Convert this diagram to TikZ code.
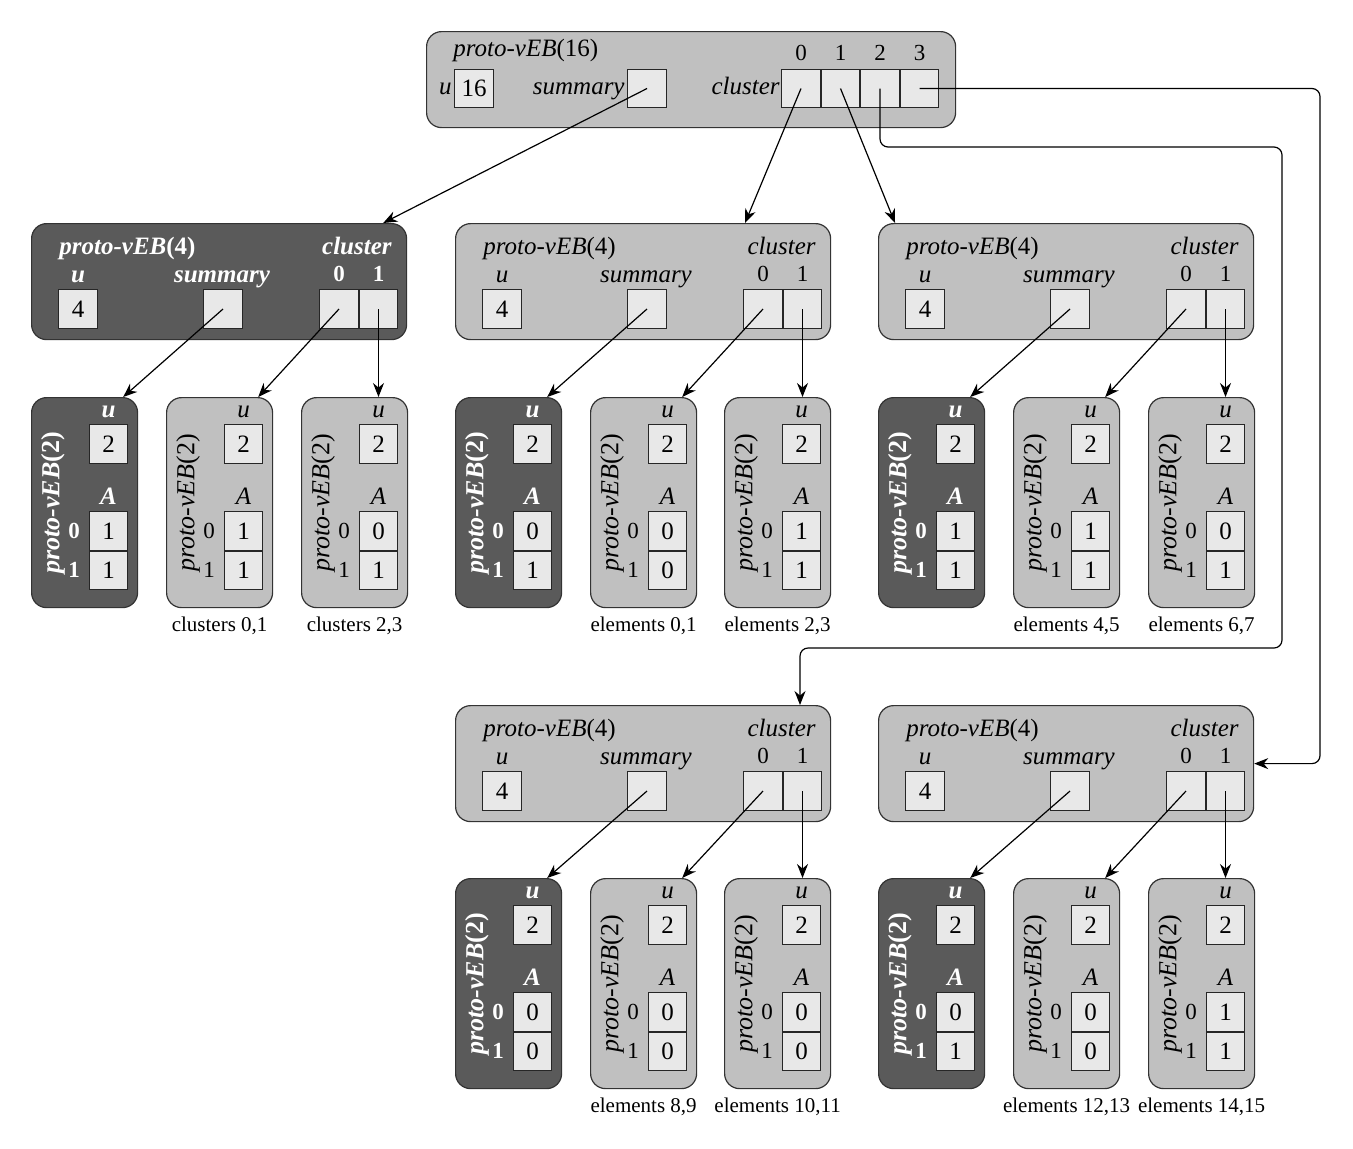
\documentclass[tikz,border=0pt]{standalone}
\usepackage{fontspec}
\setmainfont{Liberation Serif}
\usepackage{xcolor}
\usepackage{tikz}
\usetikzlibrary{positioning,arrows.meta,calc}
\definecolor{vebdark}{HTML}{5A5A5A}
\definecolor{veblight}{HTML}{C0C0C0}
\definecolor{cellgray}{HTML}{E8E8E8}
\newcommand{\lab}{\fontsize{12.5}{13}\selectfont}
\newcommand{\idx}{\fontsize{11.5}{12}\selectfont}
\newcommand{\vebname}[1]{{\itshape proto-vEB}\textup{(#1)}}

% proto-vEB(4): name, left, top, dark/light
\newcommand{\vebfour}[4]{%
  \begin{scope}[shift={(#2,#3)}]
    \node[box#4,minimum width=187.5pt,minimum height=58pt,anchor=north west] (#1) at (0,0) {};
    \node[lab#4,anchor=base west] (#1-t)  at (28,31)  {\vebname{4}};
    \node[lab#4,anchor=base east] (#1-cl) at (361,31) {cluster};
    \node[lab#4,anchor=base]      (#1-ul) at (47,59)  {u};
    \node[lab#4,anchor=base]      (#1-sl) at (191,59) {summary};
    \node[cell] (#1-u)  at (47,86)  {4};
    \node[cell] (#1-s)  at (192,86) {};
    \node[cell] (#1-c0) at (308,86) {};
    \node[cell,right=0pt of #1-c0] (#1-c1) {};
    \node[idx#4,anchor=base] (#1-i0) at (#1-c0.center |- 0,58) {0};
    \node[idx#4,anchor=base] (#1-i1) at (#1-c1.center |- 0,58) {1};
  \end{scope}}

% proto-vEB(2): name, left, top, dark/light, A[0], A[1]
\newcommand{\vebtwo}[6]{%
  \begin{scope}[shift={(#2,#3)}]
    \node[box#4,minimum width=53pt,minimum height=105pt,anchor=north west] (#1) at (0,0) {};
    \node[lab#4,rotate=90] (#1-t) at (22,106) {\fontsize{13}{13}\selectfont\vebname{2}};
    \node[lab#4,anchor=base] (#1-ul) at (77.5,20)  {u};
    \node[cell] (#1-u) at (77.5,47) {2};
    \node[lab#4,anchor=base] (#1-al) at (77.5,107) {A};
    \node[cell] (#1-a0) at (77.5,134) {#5};
    \node[cell,below=0pt of #1-a0] (#1-a1) {#6};
    \node[idx#4] (#1-i0) at (43,134)   {0};
    \node[idx#4] (#1-i1) at (43,172.5) {1};
  \end{scope}}

\begin{document}
\begin{tikzpicture}[
    x=0.5pt,y=-0.5pt,
    every node/.style={inner sep=0pt},
    boxdark/.style={rectangle,draw=black!80,fill=vebdark,line width=0.6pt,rounded corners=7.5pt},
    boxlight/.style={rectangle,draw=black!80,fill=veblight,line width=0.6pt,rounded corners=7.5pt},
    labdark/.style={text=white,font=\lab\bfseries\itshape},
    lablight/.style={font=\lab\itshape},
    idxdark/.style={text=white,font=\idx\bfseries},
    idxlight/.style={font=\idx},
    cell/.style={rectangle,draw=black!85,fill=cellgray,line width=0.5pt,
                 minimum width=19.25pt,minimum height=19.25pt,font=\lab},
    capt/.style={font=\fontsize{10.5}{11}\selectfont},
    arrow/.style={-{Stealth[length=7pt,width=5.5pt]},line width=0.6pt,rounded corners=4pt},
]
    \useasboundingbox (0,0) rectangle (1353,1148);

    % proto-vEB(16)
    \node[boxlight,minimum width=264.5pt,minimum height=48pt,anchor=north west] (root) at (426,31) {};
    \node[lablight,anchor=base west] (root-t) at (453,56) {\vebname{16}};
    \node[lablight,anchor=base east] (root-ul) at (452,94) {u};
    \node[cell] (root-u) at (474,88.5) {16};
    \node[lablight,anchor=base east] (root-sl) at (625,94) {summary};
    \node[cell] (root-s) at (647,88.5) {};
    \node[lablight,anchor=base east] (root-cl) at (780,94) {cluster};
    \node[cell] (root-c0) at (801,88.5) {};
    \node[cell,right=0pt of root-c0] (root-c1) {};
    \node[cell,right=0pt of root-c1] (root-c2) {};
    \node[cell,right=0pt of root-c2] (root-c3) {};
    \node[idxlight,anchor=base] (root-i0) at (root-c0.center |- 0,60) {0};
    \node[idxlight,anchor=base] (root-i1) at (root-c1.center |- 0,60) {1};
    \node[idxlight,anchor=base] (root-i2) at (root-c2.center |- 0,60) {2};
    \node[idxlight,anchor=base] (root-i3) at (root-c3.center |- 0,60) {3};

    % proto-vEB(4) structures
    \vebfour{s4}{31}{223}{dark}
    \vebfour{c4a}{455}{223}{light}
    \vebfour{c4b}{878}{223}{light}
    \vebfour{c4c}{455}{705}{light}
    \vebfour{c4d}{878}{705}{light}

    % proto-vEB(2) structures
    \vebtwo{s4s}{31}{397}{dark}{1}{1}
    \vebtwo{s40}{166}{397}{light}{1}{1}
    \vebtwo{s41}{301}{397}{light}{0}{1}
    \vebtwo{c4as}{455}{397}{dark}{0}{1}
    \vebtwo{c4a0}{590}{397}{light}{0}{0}
    \vebtwo{c4a1}{724}{397}{light}{1}{1}
    \vebtwo{c4bs}{878}{397}{dark}{1}{1}
    \vebtwo{c4b0}{1013}{397}{light}{1}{1}
    \vebtwo{c4b1}{1148}{397}{light}{0}{1}
    \vebtwo{c4cs}{455}{878}{dark}{0}{0}
    \vebtwo{c4c0}{590}{878}{light}{0}{0}
    \vebtwo{c4c1}{724}{878}{light}{0}{0}
    \vebtwo{c4ds}{878}{878}{dark}{0}{1}
    \vebtwo{c4d0}{1013}{878}{light}{0}{0}
    \vebtwo{c4d1}{1148}{878}{light}{1}{1}

    % captions
    \node[capt,below=4pt of s40]  (s40-c)  {clusters 0,1};
    \node[capt,below=4pt of s41]  (s41-c)  {clusters 2,3};
    \node[capt,below=4pt of c4a0] (c4a0-c) {elements 0,1};
    \node[capt,below=4pt of c4a1] (c4a1-c) {elements 2,3};
    \node[capt,below=4pt of c4b0] (c4b0-c) {elements 4,5};
    \node[capt,below=4pt of c4b1] (c4b1-c) {elements 6,7};
    \node[capt,below=4pt of c4c0] (c4c0-c) {elements 8,9};
    \node[capt,below=4pt of c4c1] (c4c1-c) {elements 10,11};
    \node[capt,below=4pt of c4d0] (c4d0-c) {elements 12,13};
    \node[capt,below=4pt of c4d1] (c4d1-c) {elements 14,15};

    % routing lanes
    \coordinate (lane2a) at (1282,147);
    \coordinate (lane2b) at (800,648);
    \coordinate (lane3)  at (1320,400);

    \draw[arrow] (root-s.center)  -- ([xshift=-12pt]s4.north east);
    \draw[arrow] (root-c0.center) -- ([xshift=145pt]c4a.north west);
    \draw[arrow] (root-c1.center) -- ([xshift=8.5pt]c4b.north west);
    \draw[arrow] (root-c2.center) |- (lane2a) |- (lane2b) -- (c4c.north -| lane2b);
    \draw[arrow] (root-c3.center) -| (lane3) |- (c4d.east);

    \draw[arrow] (s4-s.center)   -- ([xshift=-7.5pt]s4s.north east);
    \draw[arrow] (s4-c0.center)  -- ([xshift=-7.5pt]s40.north east);
    \draw[arrow] (s4-c1.center)  -- (s4-c1.center |- s41.north);
    \draw[arrow] (c4a-s.center)  -- ([xshift=-7.5pt]c4as.north east);
    \draw[arrow] (c4a-c0.center) -- ([xshift=-7.5pt]c4a0.north east);
    \draw[arrow] (c4a-c1.center) -- (c4a-c1.center |- c4a1.north);
    \draw[arrow] (c4b-s.center)  -- ([xshift=-7.5pt]c4bs.north east);
    \draw[arrow] (c4b-c0.center) -- ([xshift=-7.5pt]c4b0.north east);
    \draw[arrow] (c4b-c1.center) -- (c4b-c1.center |- c4b1.north);
    \draw[arrow] (c4c-s.center)  -- ([xshift=-7.5pt]c4cs.north east);
    \draw[arrow] (c4c-c0.center) -- ([xshift=-7.5pt]c4c0.north east);
    \draw[arrow] (c4c-c1.center) -- (c4c-c1.center |- c4c1.north);
    \draw[arrow] (c4d-s.center)  -- ([xshift=-7.5pt]c4ds.north east);
    \draw[arrow] (c4d-c0.center) -- ([xshift=-7.5pt]c4d0.north east);
    \draw[arrow] (c4d-c1.center) -- (c4d-c1.center |- c4d1.north);
\end{tikzpicture}
\end{document}
